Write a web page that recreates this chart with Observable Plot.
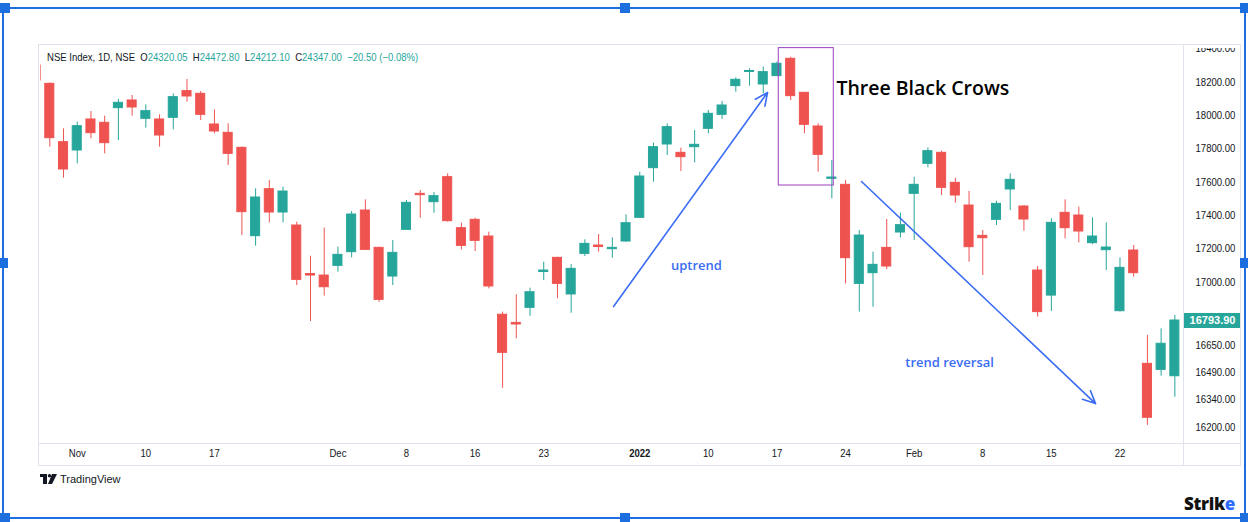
<!DOCTYPE html>
<html><head><meta charset="utf-8">
<script src="https://cdn.jsdelivr.net/npm/d3@7"></script>
<script src="https://cdn.jsdelivr.net/npm/@observablehq/plot@0.6"></script>
<style>
html,body{margin:0;padding:0;background:#fff;}
body{width:1248px;height:522px;position:relative;overflow:hidden;font-family:"Liberation Sans",Arial,sans-serif;}
#chart{position:absolute;left:0;top:0;}
#chart svg{clip-path:inset(44px 0 0 0);}
.legend{position:absolute;left:47px;top:51px;font-size:11px;color:#131722;white-space:pre;transform:scaleX(0.867);transform-origin:0 0;}
.legend .v{color:#26a69a;}
.tv{position:absolute;left:40px;top:473px;font-size:11px;color:#131722;display:flex;align-items:center;gap:3px;}
.strike{position:absolute;left:1184px;top:492px;font-family:"Open Sans",sans-serif;font-weight:800;font-size:17px;color:#111;letter-spacing:-0.3px;}
.strike span{color:#2f6bff;}
.mask{position:absolute;left:1184px;top:45px;width:55px;height:2.5px;background:#fff;}
.hl{position:absolute;background:#1d6fe0;}
.sq{position:absolute;background:#1d6fe0;width:10px;height:10px;}
</style></head><body>
<div id="chart"></div>
<div class="mask"></div>
<div class="legend">NSE Index, 1D, NSE  O<span class="v">24320.05</span>  H<span class="v">24472.80</span>  L<span class="v">24212.10</span>  C<span class="v">24347.00</span>  <span class="v">−20.50 (−0.08%)</span></div>
<div class="tv"><svg width="17" height="10" viewBox="0 0 17 10"><rect x="0" y="0" width="7" height="3" fill="#131722"/><rect x="3" y="0" width="4" height="10" fill="#131722"/><circle cx="9.5" cy="1.7" r="1.7" fill="#131722"/><polygon points="12,0 17,0 12,10 8,10" fill="#131722"/></svg><span>TradingView</span></div>
<div class="strike">Strik<span>e</span></div>
<div class="hl" style="left:0;top:7px;width:1248px;height:2px"></div>
<div class="hl" style="left:0;top:517px;width:1248px;height:2px"></div>
<div class="hl" style="left:2px;top:7px;width:2px;height:512px"></div>
<div class="hl" style="left:1244px;top:7px;width:2px;height:512px"></div>
<div class="sq" style="left:0;top:3px"></div>
<div class="sq" style="left:620px;top:3px"></div>
<div class="sq" style="left:1240px;top:3px"></div>
<div class="sq" style="left:0;top:513px"></div>
<div class="sq" style="left:620px;top:513px"></div>
<div class="sq" style="left:1240px;top:513px"></div>
<div class="sq" style="left:-2px;top:258px"></div>
<div class="sq" style="left:1240px;top:258px"></div>
<script>
// ---- data (NSE Index daily candles) ----
const firstIndex = -1;
const opens  = [18300,18190,17840,17790,17976,17956,18044,18090,17980,17976,17986,18146,18130,17946,17896,17806,17276,17558,17418,17340,17049,17040,17098,17180,17430,17206,17034,17314,17530,17480,17630,17324,17374,17274,16825,16780,16862,17061,17146,16934,17170,17220,17198,17244,17386,17684,17826,17776,17810,17920,18004,18176,18261,18186,18236,18340,18136,17934,17620,17584,16991,17054,17206,17298,17530,17710,17776,17596,17460,17278,17374,17556,17454,17070,16928,17416,17400,17234,17192,16844,17190,16540,16504,16468];
const highs  = [18312,18195,17920,17960,18024,17996,18096,18120,18064,18004,18130,18216,18144,18034,17950,17811,17560,17610,17570,17360,17156,17325,17210,17424,17494,17210,17250,17490,17550,17538,17650,17354,17384,17300,16839,16932,16968,17120,17150,17106,17254,17286,17266,17404,17660,17834,17950,17804,17910,18030,18084,18226,18280,18290,18320,18350,18138,17950,17730,17610,17310,17180,17376,17414,17630,17806,17786,17624,17544,17310,17486,17650,17460,17094,17380,17494,17450,17386,17356,17146,17220,16708,16746,16821];
const lows   = [18198,17810,17624,17710,17860,17770,17850,17996,17924,17810,17914,18080,17970,17890,17700,17280,17216,17356,17356,16982,16788,16925,17060,17146,17190,16892,16982,17310,17384,17414,17360,17194,17184,16964,16403,16689,16817,17010,16911,16833,17154,17180,17144,17240,17384,17600,17760,17664,17716,17890,17976,18140,18176,18130,18234,18090,17890,17660,17500,16991,16839,16865,17076,17266,17250,17686,17520,17474,17120,17040,17340,17430,17306,16812,16842,17260,17236,17226,17070,16840,17030,16212,16468,16354];
const closes = [18210,17864,17676,17936,17894,17834,18076,18048,18026,17880,18110,18114,18004,17904,17770,17420,17508,17418,17544,17014,17040,16973,17164,17406,17194,16905,17176,17476,17522,17516,17366,17218,17248,16977,16606,16771,16946,17070,16991,17080,17230,17211,17206,17354,17634,17810,17930,17750,17824,18010,18060,18214,18267,18260,18310,18116,17944,17764,17628,17144,17280,17104,17094,17342,17584,17786,17566,17520,17210,17264,17470,17614,17376,16839,17356,17324,17304,17274,17208,17086,17054,16250,16660,16793.9];
const xTickIndex  = [2,7,12,21,26,31,36,43,48,53,58,63,68,73,78];
const xTickLabels = ["Nov","10","17","Dec","8","16","23","2022","10","17","24","Feb","8","15","22"];
const yTicks = [16200,16340,16490,16650,17000,17200,17400,17600,17800,18000,18200,18400];
const lastClose = 16793.90;
// pattern box (candle index range, price range) and trend annotations
const crowsBox = [{i1: 53.13, i2: 57.14, p1: 17580, p2: 18404}];
const trendArrows = [
  {i1: 41.09, p1: 16869, i2: 52.31, p2: 18138},
  {i1: 59.16, p1: 17604, i2: 76.22, p2: 16321}
];
const trendLabels = [
  {i: 47.13, p: 17096, text: "uptrend"},
  {i: 65.58, p: 16546, text: "trend reversal"}
];
const patternLabel = [{i: 57.33, p: 18162, text: "Three Black Crows"}];

// ---- build ----
const candles = opens.map((o, k) => ({i: k + firstIndex, o, h: highs[k], l: lows[k], c: closes[k]}));
const UP = "#26a69a", DOWN = "#ef5350";
const col = d => d.c >= d.o ? UP : DOWN;
const labelOf = new Map(xTickIndex.map((t, k) => [t, xTickLabels[k]]));
const yearTicks = xTickIndex.filter(t => /^\d{4}$/.test(labelOf.get(t)));
const dayTicks = xTickIndex.filter(t => !yearTicks.includes(t));
const HALF = 0.33;
const BLUE = "#3a6cf4";

const chart = Plot.plot({
  width: 1248, height: 522,
  marginLeft: 40, marginRight: 65, marginTop: 44, marginBottom: 79,
  style: {fontFamily: "'Liberation Sans',Arial,sans-serif", fontSize: "11px", color: "#131722", background: "transparent"},
  x: {type: "linear", domain: [-0.678, 82.63]},
  y: {type: "linear", domain: [16200, 16340, 16490, 16650, 16793.9, 17000, 18400],
      range: [427.3, 399.3, 371.7, 345, 320, 281.7, 48.3]},
  marks: [
    Plot.ruleX(candles, {x: "i", y1: "l", y2: "h", stroke: col, strokeWidth: 1, clip: true}),
    Plot.rect(candles, {x1: d => d.i - HALF, x2: d => d.i + HALF, y1: "o", y2: "c", fill: col, stroke: col, strokeWidth: 1, clip: true}),
    Plot.rect(crowsBox, {x1: "i1", x2: "i2", y1: "p1", y2: "p2", fill: "none", stroke: "#9c3fc0", strokeWidth: 1}),
    Plot.arrow(trendArrows, {x1: "i1", y1: "p1", x2: "i2", y2: "p2", stroke: BLUE, strokeWidth: 1.6, headLength: 13, headAngle: 50}),
    Plot.text(trendLabels, {x: "i", y: "p", text: "text", fill: BLUE, fontSize: 13, fontWeight: 600, fontFamily: "'Open Sans',sans-serif"}),
    Plot.text(patternLabel, {x: "i", y: "p", text: "text", fill: "#000", fontSize: 19.5, fontWeight: 600, textAnchor: "start", fontFamily: "'Open Sans',sans-serif"}),
    Plot.axisY(yTicks, {anchor: "right", tickSize: 0, tickPadding: 12, tickFormat: d => d.toFixed(2), fill: "#131722"}),
    Plot.ruleY([lastClose], {y: d => d, stroke: UP, strokeWidth: 15, insetLeft: 1144, insetRight: -57}),
    Plot.text([lastClose], {y: d => d, text: d => d.toFixed(2), frameAnchor: "right", textAnchor: "middle", dx: 29, fill: "white", fontWeight: "bold", ariaLabel: "price tick label"}),
    Plot.axisX(dayTicks, {anchor: "bottom", tickSize: 0, tickPadding: 6, tickFormat: t => labelOf.get(t), fill: "#131722"}),
    Plot.axisX(yearTicks, {anchor: "bottom", tickSize: 0, tickPadding: 6, tickFormat: t => labelOf.get(t), fill: "#131722", fontWeight: "bold"}),
    // panel borders
    Plot.frame({stroke: "#e0e3eb", insetBottom: -22, insetLeft: -2, insetRight: -57}),
    Plot.frame({anchor: "bottom", stroke: "#e0e3eb", insetLeft: -2, insetRight: -57}),
    Plot.frame({anchor: "right", stroke: "#e0e3eb", insetBottom: -22})
  ]
});
// condensed look of the small TradingView labels (scale only horizontally, around each label's anchor)
chart.querySelectorAll('g[aria-label$="tick label"] text').forEach(t => {
  const tr = t.getAttribute("transform");
  if (tr) t.setAttribute("transform", `${tr} scale(0.87,1)`);
});
document.getElementById("chart").appendChild(chart);
</script>
</body></html>
